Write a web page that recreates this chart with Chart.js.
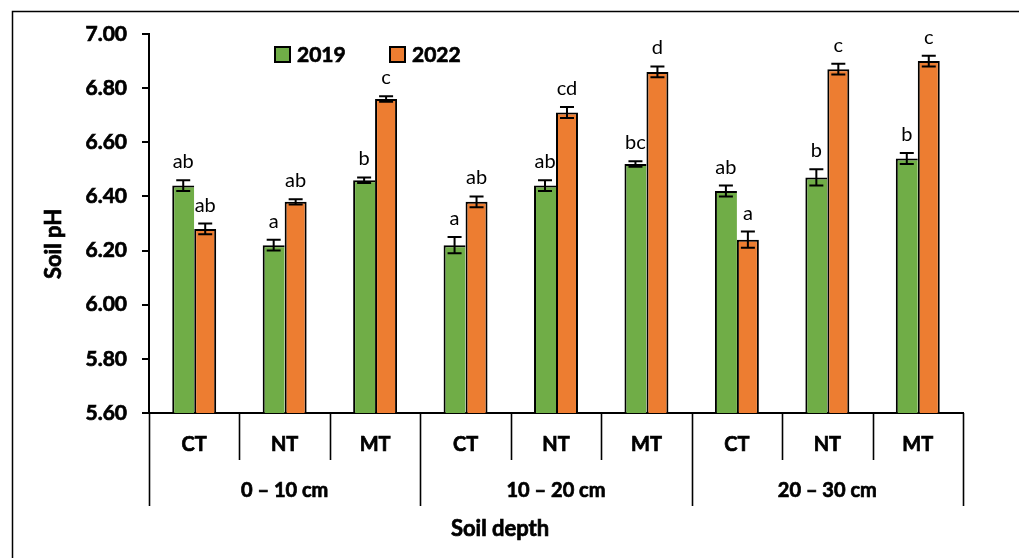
<!DOCTYPE html>
<html>
<head>
<meta charset="utf-8">
<script src="https://cdn.jsdelivr.net/npm/chart.js@4.4.1/dist/chart.umd.min.js"></script>
<style>
  body { margin: 0; background: #fff; }
  #wrap { width: 1019px; height: 558px; }
</style>
</head>
<body>
<div id="wrap"><canvas id="phChart" width="1019" height="558"></canvas></div>
<script>
// tillage treatments, repeated for each soil depth
const treatments = ['CT', 'NT', 'MT'];
const depths = ['0 – 10 cm', '10 – 20 cm', '20 – 30 cm'];
const years = ['2019', '2022'];

// mean soil pH per depth x treatment
const ph2019 = [6.44, 6.22, 6.46, 6.22, 6.44, 6.52, 6.42, 6.47, 6.54];
const ph2022 = [6.28, 6.38, 6.76, 6.38, 6.71, 6.86, 6.24, 6.87, 6.90];
// standard errors
const err2019 = [0.02, 0.02, 0.01, 0.03, 0.02, 0.01, 0.02, 0.03, 0.02];
const err2022 = [0.02, 0.01, 0.01, 0.02, 0.02, 0.02, 0.03, 0.02, 0.02];
// significance letters
const letters2019 = ['ab', 'a', 'b', 'a', 'ab', 'bc', 'ab', 'b', 'b'];
const letters2022 = ['ab', 'ab', 'c', 'ab', 'cd', 'd', 'a', 'c', 'c'];

const yMin = 5.6, yMax = 7.0, yStep = 0.2;

const GREEN = '#70AD47';
const ORANGE = '#ED7D31';
const FONT = 'Lato, "Open Sans", sans-serif';

const labels = depths.flatMap(() => treatments);
const errors = [err2019, err2022];
const letters = [letters2019, letters2022];

// bold text with a thin outline so it reads a bit heavier
function boldText(ctx, t, x, y) {
    ctx.fillText(t, x, y);
    ctx.strokeText(t, x, y);
}

const decor = {
    id: 'decor',
    // letters go under the bars, like in the original figure
    beforeDatasetsDraw(chart) {
        const ctx = chart.ctx, y = chart.scales.y;
        ctx.save();
        ctx.font = '20px ' + FONT;
        ctx.fillStyle = '#000';
        ctx.textAlign = 'center';
        ctx.textBaseline = 'alphabetic';
        chart.data.datasets.forEach((ds, d) => {
            chart.getDatasetMeta(d).data.forEach((bar, i) => {
                const top = y.getPixelForValue(ds.data[i] + errors[d][i]);
                ctx.fillText(letters[d][i], bar.x, top - 12);
            });
        });
        ctx.restore();
    },
    afterDatasetsDraw(chart) {
        const ctx = chart.ctx, y = chart.scales.y;
        ctx.save();
        ctx.strokeStyle = '#000';
        ctx.lineWidth = 2;
        chart.data.datasets.forEach((ds, d) => {
            chart.getDatasetMeta(d).data.forEach((bar, i) => {
                const hi = y.getPixelForValue(ds.data[i] + errors[d][i]);
                const lo = y.getPixelForValue(ds.data[i] - errors[d][i]);
                ctx.beginPath();
                ctx.moveTo(bar.x, hi); ctx.lineTo(bar.x, lo);
                ctx.moveTo(bar.x - 7, hi); ctx.lineTo(bar.x + 7, hi);
                ctx.moveTo(bar.x - 7, lo); ctx.lineTo(bar.x + 7, lo);
                ctx.stroke();
            });
        });
        ctx.restore();
    },
    afterDraw(chart) {
        const ctx = chart.ctx, x = chart.scales.x, area = chart.chartArea;
        const step = (area.right - area.left) / labels.length;
        ctx.save();
        ctx.fillStyle = '#000';
        ctx.strokeStyle = '#000';

        // category / depth separators under the axis
        ctx.lineWidth = 1.6;
        for (let i = 0; i <= labels.length; i++) {
            const px = Math.round(area.left + i * step) + 0.5;
            const end = i % 3 === 0 ? 506 : 460;
            ctx.beginPath();
            ctx.moveTo(px, area.bottom);
            ctx.lineTo(px, end);
            ctx.stroke();
        }

        ctx.lineWidth = 0.7;
        ctx.textAlign = 'center';
        ctx.textBaseline = 'middle';
        ctx.font = 'bold 20px ' + FONT;
        labels.forEach((t, i) => boldText(ctx, t, x.getPixelForValue(i), 445));
        depths.forEach((t, g) => {
            const cx = (x.getPixelForValue(g * 3) + x.getPixelForValue(g * 3 + 2)) / 2;
            boldText(ctx, t, cx, 491);
        });

        // axis titles
        ctx.font = 'bold 22px ' + FONT;
        boldText(ctx, 'Soil depth', 500, 529);
        ctx.save();
        ctx.translate(54, 244);
        ctx.rotate(-Math.PI / 2);
        boldText(ctx, 'Soil pH', 0, 0);
        ctx.restore();

        // legend
        const items = [[275, GREEN, years[0]], [390, ORANGE, years[1]]];
        ctx.font = 'bold 21px ' + FONT;
        ctx.textAlign = 'left';
        items.forEach(([lx, col, txt]) => {
            ctx.lineWidth = 2;
            ctx.fillStyle = col;
            ctx.fillRect(lx, 47, 15, 15);
            ctx.strokeRect(lx, 47, 15, 15);
            ctx.fillStyle = '#000';
            ctx.lineWidth = 0.7;
            boldText(ctx, txt, lx + 22, 55);
        });

        // frame around the figure
        ctx.lineWidth = 1.5;
        ctx.beginPath();
        ctx.moveTo(12.5, 558);
        ctx.lineTo(12.5, 11.5);
        ctx.lineTo(1019, 11.5);
        ctx.stroke();
        ctx.restore();
    }
};

new Chart(document.getElementById('phChart'), {
    type: 'bar',
    data: {
        labels: labels,
        datasets: [{
            label: years[0],
            data: ph2019,
            backgroundColor: GREEN,
            borderColor: '#000',
            borderWidth: 2,
            borderSkipped: 'right'
        }, {
            label: years[1],
            data: ph2022,
            backgroundColor: ORANGE,
            borderColor: '#000',
            borderWidth: 2,
            borderSkipped: 'bottom'
        }]
    },
    options: {
        responsive: false,
        animation: false,
        layout: { padding: { left: 0, top: 34, right: 56, bottom: 0 } },
        datasets: { bar: { categoryPercentage: 0.486, barPercentage: 1 } },
        plugins: { legend: { display: false }, tooltip: { enabled: false } },
        scales: {
            x: {
                grid: { display: false },
                ticks: { display: false },
                border: { display: true, color: '#000', width: 2 },
                afterFit(s) { s.height = 145; }
            },
            y: {
                min: yMin,
                max: yMax,
                grid: { drawOnChartArea: false, drawTicks: true, tickLength: 7, color: '#000', lineWidth: 2 },
                border: { display: true, color: '#000', width: 2 },
                ticks: {
                    stepSize: yStep,
                    padding: 15,
                    color: '#000',
                    textStrokeColor: '#000',
                    textStrokeWidth: 0.7,
                    font: { family: FONT, size: 21, weight: 'bold' },
                    callback: v => v.toFixed(2)
                },
                afterFit(s) { s.width = 149; }
            }
        }
    },
    plugins: [decor]
});
</script>
</body>
</html>
